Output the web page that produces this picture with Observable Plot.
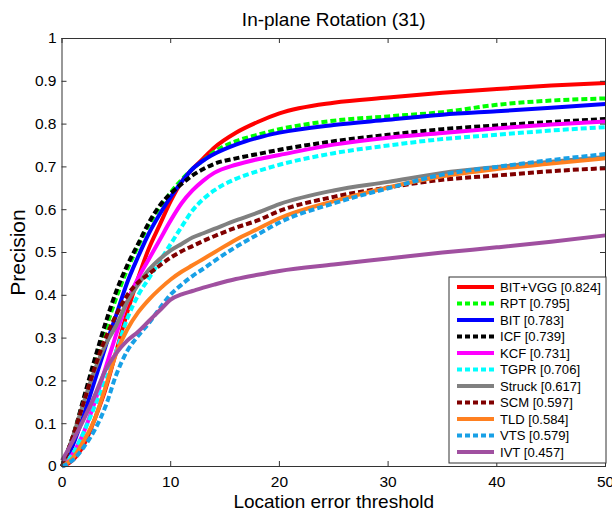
<!DOCTYPE html>
<html>
<head>
<meta charset="utf-8">
<script src="https://cdn.jsdelivr.net/npm/d3@7"></script>
<script src="https://cdn.jsdelivr.net/npm/@observablehq/plot@0.6"></script>
<style>
  html, body { margin: 0; padding: 0; background: #fff; }
  #chart { width: 612px; height: 513px; }
  svg { font-family: "Liberation Sans", Arial, sans-serif; }
</style>
</head>
<body>
<div id="chart"></div>
<script>
// ---- data ----
const thresholds = [0,1,2,3,4,5,6,7,8,9,10,11,12,13,14,16,18,20,25,30,35,40,45,50];
const trackers = ["BIT+VGG","RPT","BIT","ICF","KCF","TGPR","Struck","SCM","TLD","VTS","IVT"];
const scores = ["0.824","0.795","0.783","0.739","0.731","0.706","0.617","0.597","0.584","0.579","0.457"];
const colors = ["#ff0000","#00ff00","#0000ff","#000000","#ff00ff","#00ffff","#808080","#800000","#ff8020","#18a0e6","#a050a0"];
const dotted = [false,true,false,true,false,true,false,true,false,true,false];

const bitvgg = [0,0.015,0.05,0.11,0.18,0.27,0.36,0.44,0.51,0.565,0.62,0.665,0.695,0.72,0.745,0.78,0.805,0.825,0.85,0.862,0.873,0.882,0.89,0.896];
const rpt    = [0,0.07,0.155,0.24,0.32,0.395,0.46,0.515,0.565,0.605,0.64,0.67,0.695,0.715,0.735,0.76,0.775,0.788,0.808,0.818,0.828,0.845,0.855,0.86];
const bit    = [0,0.05,0.12,0.2,0.28,0.355,0.43,0.49,0.545,0.59,0.63,0.665,0.695,0.715,0.73,0.752,0.768,0.78,0.798,0.81,0.822,0.83,0.838,0.847];
const icf    = [0,0.07,0.16,0.25,0.335,0.41,0.47,0.52,0.57,0.61,0.638,0.66,0.68,0.695,0.707,0.72,0.73,0.74,0.76,0.775,0.788,0.797,0.805,0.812];
const kcf    = [0,0.03,0.08,0.15,0.23,0.31,0.385,0.44,0.485,0.53,0.575,0.615,0.645,0.668,0.686,0.705,0.718,0.728,0.752,0.768,0.779,0.79,0.799,0.806];
const tgpr   = [0,0.03,0.08,0.14,0.2,0.27,0.345,0.4,0.44,0.48,0.52,0.56,0.598,0.625,0.645,0.672,0.69,0.705,0.732,0.75,0.765,0.775,0.785,0.793];
const struck = [0,0.07,0.15,0.225,0.285,0.33,0.385,0.425,0.46,0.485,0.505,0.52,0.535,0.545,0.555,0.575,0.593,0.613,0.645,0.665,0.686,0.7,0.712,0.723];
const scm    = [0,0.07,0.15,0.23,0.3,0.355,0.4,0.43,0.45,0.47,0.488,0.503,0.515,0.527,0.538,0.558,0.575,0.597,0.63,0.652,0.67,0.68,0.69,0.697];
const tld    = [0,0.02,0.06,0.11,0.185,0.265,0.32,0.36,0.39,0.415,0.437,0.455,0.47,0.485,0.5,0.53,0.555,0.58,0.62,0.652,0.678,0.695,0.708,0.72];
const vts    = [0,0.015,0.045,0.085,0.14,0.215,0.27,0.305,0.335,0.37,0.402,0.425,0.445,0.462,0.48,0.513,0.542,0.57,0.615,0.65,0.682,0.7,0.716,0.73];
const ivt    = [0.014,0.06,0.11,0.165,0.225,0.265,0.294,0.315,0.34,0.365,0.39,0.402,0.41,0.418,0.425,0.438,0.448,0.457,0.472,0.486,0.5,0.512,0.525,0.54];
const series = [bitvgg,rpt,bit,icf,kcf,tgpr,struck,scm,tld,vts,ivt];

const xTicks = [0,10,20,30,40,50];
const yTicks = [0,0.1,0.2,0.3,0.4,0.5,0.6,0.7,0.8,0.9,1];
const yTickLabels = ["0","0.1","0.2","0.3","0.4","0.5","0.6","0.7","0.8","0.9","1"];

const titleText = "In-plane Rotation (31)";
const xLabel = "Location error threshold";
const yLabel = "Precision";

// ---- build ----
const W = 612, H = 513;
const mL = 61.5, mR = 7, mT = 38, mB = 47;
const tickLen = 5;
const yPerPx = 1 / (H - mT - mB);
const xPerPx = 50 / (W - mL - mR);

const lineMarks = series.map((vals, i) => {
  const rows = thresholds.map((t, j) => ({x: t, y: vals[j]}));
  return Plot.line(rows, {
    x: "x", y: "y",
    stroke: colors[i],
    strokeWidth: 4,
    strokeDasharray: dotted[i] ? "6,3" : null,
    strokeLinecap: "butt",
    strokeLinejoin: "round",
    curve: "monotone-x"
  });
});

const axisColor = "#333";
const chart = Plot.plot({
  width: W, height: H,
  marginLeft: mL, marginRight: mR, marginTop: mT, marginBottom: mB,
  style: {fontFamily: "'Liberation Sans', Arial, sans-serif", background: "#fff", color: "#000"},
  x: {domain: [0, 50], ticks: xTicks},
  y: {domain: [0, 1], ticks: yTicks},
  marks: [
    ...lineMarks,
    Plot.frame({stroke: axisColor, strokeWidth: 1}),
    // inward ticks: bottom & top
    Plot.ruleX(xTicks, {x: d => d, y1: 0, y2: tickLen * yPerPx, stroke: axisColor}),
    Plot.ruleX(xTicks, {x: d => d, y1: 1 - tickLen * yPerPx, y2: 1, stroke: axisColor}),
    // inward ticks: left & right
    Plot.ruleY(yTicks, {y: d => d, x1: 0, x2: tickLen * xPerPx, stroke: axisColor}),
    Plot.ruleY(yTicks, {y: d => d, x1: 50 - tickLen * xPerPx, x2: 50, stroke: axisColor}),
    Plot.axisX(xTicks, {anchor: "bottom", tickSize: 0, tickPadding: 9, fontSize: 15.5, label: null}),
    Plot.axisY(yTicks, {anchor: "left", tickSize: 0, tickPadding: 5.5, fontSize: 15.5, label: null,
      tickFormat: (d) => yTickLabels[yTicks.indexOf(d)]}),
    Plot.text([titleText], {frameAnchor: "top", lineAnchor: "middle", dy: -19, fontSize: 19, fill: "#000"}),
    Plot.text([xLabel], {frameAnchor: "bottom", lineAnchor: "middle", dy: 35, fontSize: 19, fill: "#000"}),
    Plot.text([yLabel], {frameAnchor: "left", textAnchor: "middle", lineAnchor: "middle", dx: -44, rotate: -90, fontSize: 21, fill: "#000"})
  ]
});

document.getElementById("chart").appendChild(chart);

// ---- legend (drawn from the series arrays) ----
const svg = d3.select(chart.tagName.toLowerCase() === "svg" ? chart : chart.querySelector("svg"));
const lg = svg.append("g").attr("transform", "translate(449,277)").attr("text-anchor", "start");
const rowH = 16.5, boxW = 157, boxH = 186;
lg.append("rect").attr("width", boxW).attr("height", boxH)
  .attr("fill", "#fff").attr("stroke", "#333").attr("stroke-width", 1);
trackers.forEach((name, i) => {
  const y = 10 + i * rowH;
  lg.append("line").attr("x1", 8).attr("x2", 45).attr("y1", y).attr("y2", y)
    .attr("stroke", colors[i]).attr("stroke-width", 4)
    .attr("stroke-dasharray", dotted[i] ? "5,3" : null);
  lg.append("text").attr("x", 51).attr("y", y).attr("dy", "0.36em")
    .attr("text-anchor", "start")
    .attr("font-size", 13.1).attr("fill", "#000")
    .text(`${name} [${scores[i]}]`);
});
</script>
</body>
</html>
